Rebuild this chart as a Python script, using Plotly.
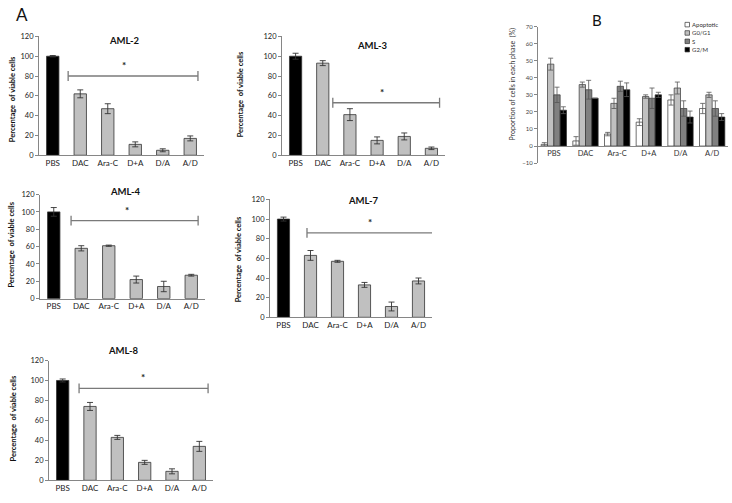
import plotly.graph_objects as go

W, H = 732, 503
FONT = "Lato, 'Open Sans', 'DejaVu Sans', sans-serif"

categories = ["PBS", "DAC", "Ara-C", "D+A", "D/A", "A/D"]

aml2_vals = [100, 62, 47, 11, 5, 17]
aml2_err = [0.7, 4, 5, 2.5, 1.5, 2.5]
aml3_vals = [100, 93, 41, 15, 19, 7]
aml3_err = [3, 2.5, 6, 3.5, 3.5, 1.3]
aml4_vals = [100, 58, 61, 22, 14, 27]
aml4_err = [5, 3, 0.7, 4, 6, 1]
aml7_vals = [100, 63, 57, 33, 11, 37]
aml7_err = [2, 5, 1, 2.5, 4.5, 3]
aml8_vals = [100, 74, 43, 18, 9, 34]
aml8_err = [1.5, 4, 2, 2, 2.5, 5]

# significance brackets: (start index, end index, y value, star index)
aml2_sig = (0.56, 5.28, 80, 2.6)
aml3_sig = (1.37, 5.3, 53, 3.17)
aml4_sig = (0.63, 5.25, 90, 2.66)
aml7_sig = (0.87, 5.8, 86, 3.2)
aml8_sig = (0.6, 5.32, 92, 2.94)

phases = ["Apoptotic", "G0/G1", "S", "G2/M"]
apoptotic_vals = [1, 3, 7, 14, 27, 22]
apoptotic_err = [1, 2.5, 1, 2, 3, 3]
g0g1_vals = [48, 36, 25, 29, 34, 30]
g0g1_err = [3.5, 1.5, 3, 1, 3.5, 1.5]
s_vals = [30, 33, 35, 28, 22, 22]
s_err = [4.5, 5.5, 3, 6, 4.5, 4.5]
g2m_vals = [21, 28, 33, 30, 17, 17]
g2m_err = [2, 0, 4, 1.5, 3.5, 2]
phase_vals = [apoptotic_vals, g0g1_vals, s_vals, g2m_vals]
phase_errs = [apoptotic_err, g0g1_err, s_err, g2m_err]
phase_colors = ["#ffffff", "#c0c0c0", "#808080", "#000000"]


def fx(p):
    return p / W


def fy(p):
    return 1 - p / H


# panel layout in pixels: x0, x1, ytop, ybottom, title position, y-title position
panels = [
    ("AML-2", aml2_vals, aml2_err, aml2_sig, (39, 204, 33, 154), (124, 37), (12, 97)),
    ("AML-3", aml3_vals, aml3_err, aml3_sig, (282, 445, 33, 154), (372, 42), (240, 92)),
    ("AML-4", aml4_vals, aml4_err, aml4_sig, (40, 205, 194, 300), (125, 191), (12, 245)),
    ("AML-7", aml7_vals, aml7_err, aml7_sig, (270, 432, 199, 319), (363, 200), (238, 260)),
    ("AML-8", aml8_vals, aml8_err, aml8_sig, (49, 213, 363, 485), (123, 353), (13, 422)),
]

fig = go.Figure()
annotations = []
layout = {}

for i, (name, vals, errs, sig, box, tpos, ypos) in enumerate(panels):
    n = i + 1
    xa = "x" if n == 1 else f"x{n}"
    ya = "y" if n == 1 else f"y{n}"
    colors = ["#000000"] + ["#c0c0c0"] * (len(categories) - 1)
    fig.add_trace(go.Bar(
        x=list(range(len(categories))), y=vals, xaxis=xa, yaxis=ya,
        width=0.45,
        marker=dict(color=colors, line=dict(color="#333333", width=0.8)),
        error_y=dict(type="data", array=errs, visible=True, color="#333333",
                     thickness=0.9, width=3),
        showlegend=False, hoverinfo="y",
    ))
    fig.add_trace(go.Scatter(
        x=[sig[0], sig[1]], y=[sig[2], sig[2]], xaxis=xa, yaxis=ya,
        mode="lines+markers",
        line=dict(color="#7a7a7a", width=1.3),
        marker=dict(symbol="line-ns-open", size=7, color="#7a7a7a",
                    line=dict(color="#7a7a7a", width=1.3)),
        showlegend=False, hoverinfo="skip",
    ))
    annotations.append(dict(
        x=sig[3], y=sig[2], xref=xa, yref=ya,
        text="<b>*</b>", showarrow=False, xanchor="center", yanchor="bottom", yshift=3,
        font=dict(size=10, color="#222222", family=FONT)))
    x0, x1, yt, yb = box
    layout["xaxis" if n == 1 else f"xaxis{n}"] = dict(
        domain=[fx(x0), fx(x1)], anchor=ya, range=[-0.5, 5.5],
        tickvals=list(range(len(categories))), ticktext=categories,
        showline=True, linecolor="#868686", linewidth=1, ticks="",
        showgrid=False, zeroline=False,
        tickfont=dict(size=8, color="#222222", family=FONT))
    layout["yaxis" if n == 1 else f"yaxis{n}"] = dict(
        domain=[fy(yb), fy(yt)], anchor=xa, range=[0, 120], dtick=20,
        showline=True, linecolor="#868686", linewidth=1, ticks="outside",
        ticklen=3, tickcolor="#868686", showgrid=False, zeroline=False,
        tickfont=dict(size=7.5, color="#222222", family=FONT))
    annotations.append(dict(
        x=fx(tpos[0]), y=fy(tpos[1]), xref="paper", yref="paper",
        text=f"<b>{name}</b>", showarrow=False, xanchor="center", yanchor="middle",
        font=dict(size=9.5, color="#111111", family=FONT)))
    annotations.append(dict(
        x=fx(ypos[0]), y=fy(ypos[1]), xref="paper", yref="paper",
        text="<b>Percentage  of viable cells</b>", showarrow=False, textangle=-90,
        xanchor="center", yanchor="middle",
        font=dict(size=7.5, color="#111111", family=FONT)))

# Panel B
xa, ya = "x6", "y6"
for k, ph in enumerate(phases):
    fig.add_trace(go.Bar(
        x=list(range(len(categories))), y=phase_vals[k], xaxis=xa, yaxis=ya,
        name=ph, width=0.2, offset=-0.4 + 0.2 * k,
        marker=dict(color=phase_colors[k], line=dict(color="#333333", width=0.7)),
        error_y=dict(type="data", array=phase_errs[k], visible=True,
                     color="#555555", thickness=0.8, width=2.5),
        showlegend=False, hoverinfo="y",
    ))
bx0, bx1, byt, byb = 538, 728, 23, 162
zero_py = byt + (byb - byt) * 70 / 80
layout["xaxis6"] = dict(
    domain=[fx(bx0), fx(bx1)], anchor="free", position=fy(zero_py),
    range=[-0.5, 5.5], tickvals=list(range(len(categories))), ticktext=categories,
    showline=True, linecolor="#868686", linewidth=1, ticks="",
    showgrid=False, zeroline=False,
    tickfont=dict(size=7.5, color="#333333", family=FONT))
layout["yaxis6"] = dict(
    domain=[fy(byb), fy(byt)], anchor="x6", range=[-10, 70], dtick=10,
    showline=True, linecolor="#868686", linewidth=1, ticks="outside",
    ticklen=3, tickcolor="#868686", showgrid=False, zeroline=False,
    tickfont=dict(size=6, color="#444444", family=FONT))
annotations.append(dict(
    x=fx(513), y=fy(82), xref="paper", yref="paper",
    text="Proportion of cells in each phase  (%)", showarrow=False, textangle=-90,
    xanchor="center", yanchor="middle",
    font=dict(size=7, color="#333333", family=FONT)))

shapes = []
for k, ph in enumerate(phases):
    cy = 21 + k * 8.5
    shapes.append(dict(type="rect", xref="paper", yref="paper",
                       x0=fx(685), x1=fx(689.5), y0=fy(cy + 2.3), y1=fy(cy - 2.3),
                       fillcolor=phase_colors[k], line=dict(color="#333333", width=0.7)))
    annotations.append(dict(
        x=fx(690), y=fy(cy), xref="paper", yref="paper", text=ph, showarrow=False,
        xanchor="left", yanchor="middle",
        font=dict(size=6, color="#333333", family=FONT)))

annotations.append(dict(x=fx(22), y=fy(11), xref="paper", yref="paper", text="A",
                        showarrow=False, xanchor="center", yanchor="middle",
                        font=dict(size=17, color="#111111", family=FONT)))
annotations.append(dict(x=fx(597), y=fy(16), xref="paper", yref="paper", text="B",
                        showarrow=False, xanchor="center", yanchor="middle",
                        font=dict(size=15, color="#111111", family=FONT)))

fig.update_layout(
    width=W, height=H, margin=dict(l=0, r=0, t=0, b=0),
    paper_bgcolor="white", plot_bgcolor="white",
    barmode="overlay", annotations=annotations, shapes=shapes,
    font=dict(family=FONT), **layout)

fig.write_html("out.html", config={"displayModeBar": False},
               post_script="document.body.style.margin='0px';")
